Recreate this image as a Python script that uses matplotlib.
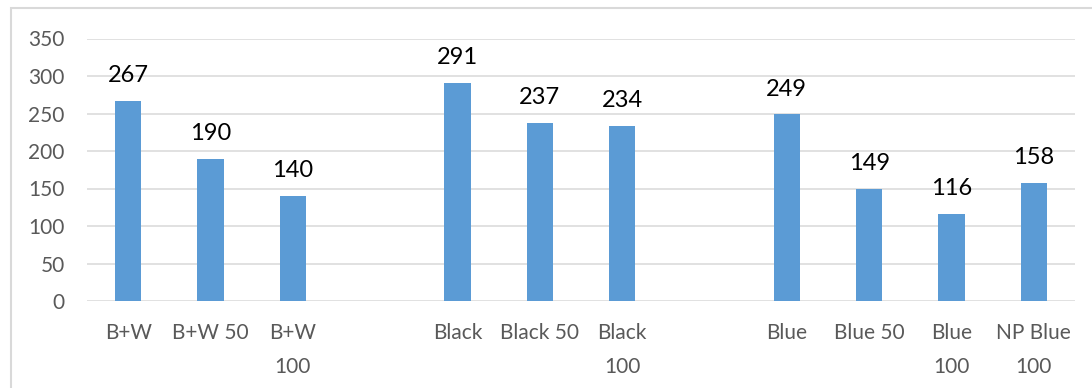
import numpy as np
import matplotlib.pyplot as plt
from matplotlib.patches import Rectangle

plt.rcParams["font.family"] = ["Lato", "DejaVu Sans"]

# categories, blank entries are the gaps between groups
labels = ["B+W", "B+W 50", "B+W\n100", "",
          "Black", "Black 50", "Black\n100", "",
          "Blue", "Blue 50", "Blue\n100", "NP Blue\n100"]
values = [267, 190, 140, np.nan,
          291, 237, 234, np.nan,
          249, 149, 116, 158]

fig = plt.figure(figsize=(10.92, 3.88), dpi=100)
ax = fig.add_axes([87 / 1092, 1 - 301 / 388, (1075 - 87) / 1092, (301 - 38.5) / 388])

x = np.arange(len(labels))
vals = np.array(values, dtype=float)
mask = ~np.isnan(vals)
bars = ax.bar(x[mask], vals[mask], width=0.32, color="#5b9bd5", zorder=3)

for xi, v in zip(x[mask], vals[mask]):
    ax.annotate(f"{int(v)}", (xi, v), xytext=(0, 13.5), textcoords="offset points",
                ha="center", va="baseline", fontsize=17, color="black")

ax.set_xlim(-0.5, len(labels) - 0.5)
ax.set_ylim(0, 350)
ax.set_yticks(range(0, 351, 50))
ax.set_xticks(x)
ax.set_xticklabels(labels, multialignment="center", linespacing=1.85)
ax.tick_params(axis="both", length=0, labelsize=15, labelcolor="#595959")
ax.tick_params(axis="y", pad=16)
ax.tick_params(axis="x", pad=16)
ax.grid(axis="y", color="#d9d9d9", linewidth=1.1, zorder=0)
for s in ax.spines.values():
    s.set_visible(False)

# chart border (left and top edge visible)
fig.add_artist(Rectangle((11 / 1092, -0.1), 1.2, 1 - 8 / 388 + 0.1,
                         transform=fig.transFigure, fill=False,
                         edgecolor="#d9d9d9", linewidth=1.5))

fig.savefig("out.png", dpi=100)
